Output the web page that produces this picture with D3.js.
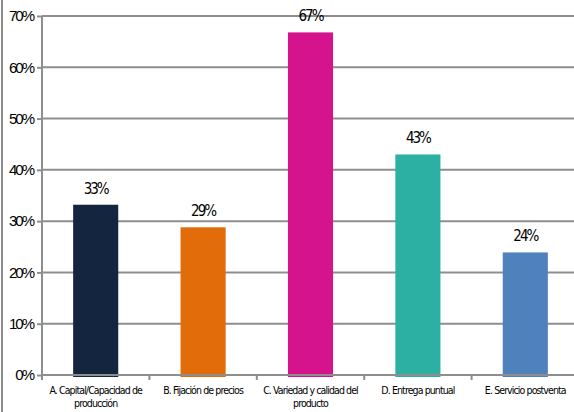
<!DOCTYPE html>
<html>
<head>
<meta charset="utf-8">
<script src="https://cdn.jsdelivr.net/npm/d3@7"></script>
<style>
  body { margin: 0; background: #fff; }
  svg { display: block; font-family: "Liberation Sans Narrow", "DejaVu Sans Condensed", sans-serif; }
</style>
</head>
<body>
<div id="chart"></div>
<script>
// chart data
var categories = [
  ["A. Capital/Capacidad de", "producción"],
  ["B. Fijación de precios"],
  ["C. Variedad y calidad del", "producto"],
  ["D. Entrega puntual"],
  ["E. Servicio postventa"]
];
var values = [33.2, 28.8, 66.8, 43.0, 23.9];
var valueLabels = ["33%", "29%", "67%", "43%", "24%"];
var barColors = ["#14263f", "#e36c0a", "#d4138c", "#2cb0a4", "#4f81bd"];
var yTicks = [0, 10, 20, 30, 40, 50, 60, 70];

var svgWidth = 574;
var svgHeight = 412;
var margin = { top: 16, right: -5, bottom: 37, left: 42 };
var chartWidth = svgWidth - margin.left - margin.right;
var chartHeight = svgHeight - margin.top - margin.bottom;

var svg = d3.select("#chart").append("svg")
  .attr("width", svgWidth)
  .attr("height", svgHeight);

// outer frame line at left
svg.append("line")
  .attr("x1", 2).attr("x2", 2)
  .attr("y1", 0).attr("y2", svgHeight)
  .attr("stroke", "#8c8c8c")
  .attr("stroke-width", 2);

var chartGroup = svg.append("g")
  .attr("transform", `translate(${margin.left}, ${margin.top})`);

var xScale = d3.scaleBand()
  .domain(d3.range(categories.length))
  .range([0, chartWidth])
  .paddingInner(0.58)
  .paddingOuter(0.29);

var xTickScale = d3.scaleLinear()
  .domain([0, categories.length])
  .range([0, chartWidth]);

var yScale = d3.scaleLinear()
  .domain([0, 70])
  .range([chartHeight, 0]);

// gridlines
chartGroup.append("g").selectAll("line")
  .data(yTicks.slice(1))
  .enter()
  .append("line")
  .attr("x1", 0)
  .attr("x2", chartWidth)
  .attr("y1", d => yScale(d))
  .attr("y2", d => yScale(d))
  .attr("stroke", "#8e8e8e")
  .attr("stroke-width", 2);

// bars
chartGroup.append("g").selectAll("rect")
  .data(values)
  .enter()
  .append("rect")
  .attr("x", (d, i) => xScale(i))
  .attr("width", xScale.bandwidth())
  .attr("y", d => yScale(d))
  .attr("height", d => chartHeight - yScale(d) + 2)
  .attr("fill", (d, i) => barColors[i]);

// y axis
var leftAxis = d3.axisLeft(yScale)
  .tickValues(yTicks)
  .tickSize(5)
  .tickPadding(4)
  .tickFormat(d => d + "%");

var yAxis = chartGroup.append("g").call(leftAxis);
yAxis.select(".domain").attr("stroke", "#8e8e8e").attr("stroke-width", 2)
  .attr("d", `M0,0V${chartHeight}`);
yAxis.selectAll(".tick line").attr("stroke", "#8e8e8e").attr("stroke-width", 2);
yAxis.selectAll(".tick text")
  .attr("fill", "#000")
  .style("font-size", "15px")
  .style("letter-spacing", "-2px");

// x axis line and ticks
var xAxis = chartGroup.append("g")
  .attr("transform", `translate(0, ${chartHeight})`);
xAxis.append("line")
  .attr("x1", 0).attr("x2", chartWidth)
  .attr("stroke", "#8e8e8e").attr("stroke-width", 2);
xAxis.selectAll(".xtick")
  .data(d3.range(categories.length + 1))
  .enter()
  .append("line")
  .attr("class", "xtick")
  .attr("x1", d => xTickScale(d)).attr("x2", d => xTickScale(d))
  .attr("y1", 0).attr("y2", 5)
  .attr("stroke", "#8e8e8e").attr("stroke-width", 2);

// category labels
var catText = xAxis.selectAll(".cat")
  .data(categories)
  .enter()
  .append("text")
  .attr("class", "cat")
  .attr("text-anchor", "middle")
  .attr("y", 19)
  .style("font-size", "10.5px")
  .style("letter-spacing", "-0.9px")
  .attr("fill", "#000");

catText.selectAll("tspan")
  .data((d, i) => d.map(line => ({ line: line, i: i })))
  .enter()
  .append("tspan")
  .attr("x", d => xScale(d.i) + xScale.bandwidth() / 2)
  .attr("dy", (d, j) => j === 0 ? 0 : 13)
  .text(d => d.line);

// value labels
chartGroup.append("g").selectAll("text")
  .data(values)
  .enter()
  .append("text")
  .attr("x", (d, i) => xScale(i) + xScale.bandwidth() / 2)
  .attr("y", d => yScale(d) - 11)
  .attr("text-anchor", "middle")
  .style("font-size", "15px")
  .style("letter-spacing", "-2px")
  .attr("fill", "#000")
  .text((d, i) => valueLabels[i]);
</script>
</body>
</html>
